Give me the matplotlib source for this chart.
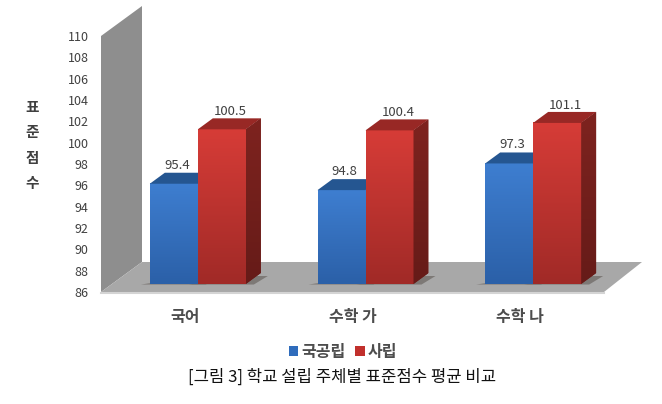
import numpy as np
import matplotlib
matplotlib.use('Agg')
import matplotlib.pyplot as plt
from matplotlib.colors import LinearSegmentedColormap
from matplotlib.patches import Patch

plt.rcParams['font.family'] = ['Noto Sans CJK KR', 'DejaVu Sans']

categories = ['국어', '수학 가', '수학 나']
public = [95.4, 94.8, 97.3]
private = [100.5, 100.4, 101.1]
yticks = list(range(86, 112, 2))
series_names = ['국공립', '사립']

W, H = 662, 404
fig = plt.figure(figsize=(W / 100, H / 100), dpi=100)
ax = fig.add_axes([101 / W, (H - 292) / H, 503 / W, 256 / H])
ax.set_xlim(-0.5, 2.5)
ax.set_ylim(86, 110)

# pixel size in data units, for the fake 3d offsets
ux = 3 / 503
uy = 24 / 256


def poly(x, y, color, z, **kw):
    ax.fill(x, y, color=color, zorder=z, clip_on=False, lw=0, **kw)


# back wall and floor
wall_dx, wall_dy = 41 * ux, 30 * uy
poly([-0.5, -0.5 + wall_dx, -0.5 + wall_dx, -0.5],
     [86, 86 + wall_dy, 110 + wall_dy, 110], '#8e8e8e', 1)
poly([-0.5, -0.5 + wall_dx, 2.5 + 38 * ux, 2.5],
     [86, 86 + wall_dy, 86 + wall_dy, 86], '#a8a8a8', 1)
ax.plot([-0.5, 2.5], [86 - 0.05, 86 - 0.05], color='#d4d4d4', lw=1.5, zorder=1, clip_on=False)

# bars sit 13 px right and 8 px up from the axis line
shift_x, shift_y = 13 * ux, 8 * uy
bw = 48 * ux
depth_x, depth_y = 15 * ux, 11 * uy
base = 86 + shift_y

blue_cm = LinearSegmentedColormap.from_list('b', ['#3e7ed0', '#2b60a8'])
red_cm = LinearSegmentedColormap.from_list('r', ['#d63c37', '#a12a27'])
side_cm = LinearSegmentedColormap.from_list('s', ['#7e231f', '#661b18'])
grad = np.linspace(0, 1, 64).reshape(-1, 1)


def draw_bar(left, val, cmap, cap, z):
    top = val + shift_y
    # shadow on the floor
    poly([left - 9 * ux, left + bw + 8 * ux, left + bw + 22 * ux, left + bw],
         [base - 0.05, base - 0.05, base + 8 * uy, base + 8 * uy], '#6f6a66', z - 0.5, alpha=0.75)
    ax.bar(left, top - base, bw, bottom=base, align='edge', color=cmap(0.5), zorder=z)
    ax.imshow(grad, cmap=cmap, extent=[left, left + bw, base, top], aspect='auto', zorder=z + 0.1)
    poly([left, left + depth_x, left + bw + depth_x, left + bw],
         [top, top + depth_y, top + depth_y, top], cap, z + 0.1)
    sx = [left + bw, left + bw + depth_x]
    im = ax.imshow(grad, cmap=side_cm, extent=[sx[0], sx[1], base, top + depth_y],
                   aspect='auto', zorder=z + 0.1)
    clip = ax.fill([sx[0], sx[1], sx[1], sx[0]],
                   [base, base + depth_y, top + depth_y, top], color='#701e1b', lw=0, zorder=z)[0]
    im.set_clip_path(clip)


for i, cat in enumerate(categories):
    c = i + shift_x
    draw_bar(c - bw, public[i], blue_cm, '#255691', 3 + i)
    draw_bar(c, private[i], red_cm, '#982825', 3.3 + i)
    ax.text(c - bw / 2 + 3 * ux, public[i] + shift_y + depth_y + 7.5 * uy, f'{public[i]:.1f}',
            ha='center', va='center', fontsize=9.5, color='#404040', zorder=10)
    ax.text(c + bw / 2 + 8.5 * ux, private[i] + shift_y + depth_y + 6.5 * uy, f'{private[i]:.1f}',
            ha='center', va='center', fontsize=9.5, color='#404040', zorder=10)

ax.set_xlim(-0.5, 2.5)
ax.set_ylim(86, 110)
ax.set_xticks(range(3))
ax.set_xticklabels(categories, fontsize=11.5, fontweight='bold', color='#4d4d4d')
ax.set_yticks(yticks)
ax.tick_params(axis='x', length=0, pad=12)
ax.tick_params(axis='y', length=0, pad=9, labelsize=9, labelcolor='#404040')
for s in ax.spines.values():
    s.set_visible(False)
ax.patch.set_alpha(0)

fig.text(32 / W, 1 - 145 / H, '표\n준\n점\n수', ha='center', va='center', fontsize=10.5,
         fontweight='bold', color='#404040', linespacing=1.7)

handles = [Patch(facecolor='#2f6cbc', label=series_names[0]),
           Patch(facecolor='#c1302c', label=series_names[1])]
fig.legend(handles=handles, loc='center', bbox_to_anchor=(343 / W, 1 - 352 / H), ncol=2, frameon=False,
           labelcolor='#4d4d4d', handlelength=0.6, handleheight=0.6,
           handletextpad=0.2, columnspacing=0.6, prop={'weight': 'bold', 'size': 11.5})

fig.text(342 / W, 1 - 377 / H, '[그림 3] 학교 설립 주체별 표준점수 평균 비교', ha='center', va='center',
         fontsize=12, color='#111111')

fig.savefig('out.png', dpi=100)
